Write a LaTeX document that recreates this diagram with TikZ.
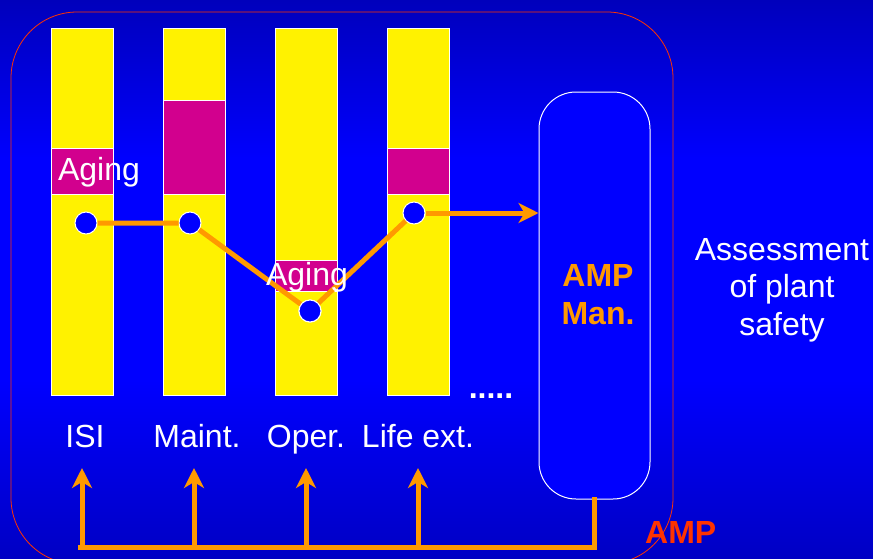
\documentclass[tikz,border=0pt]{standalone}
\usepackage{fontspec}
\setmainfont{Liberation Sans}
\usetikzlibrary{arrows.meta}
\definecolor{bgtop}{HTML}{0000BC}
\definecolor{bgmid}{HTML}{0000FF}
\definecolor{bgbot}{HTML}{0000C4}
\definecolor{amber}{HTML}{FF9900}
\definecolor{mag}{HTML}{D2008E}
\definecolor{frame}{HTML}{FF3300}
\tikzset{
  big/.style={font=\fontsize{32}{38}\selectfont},
  col/.style={draw=white, line width=0.8pt, fill=yellow, minimum width=62pt, minimum height=367pt, inner sep=0pt},
  agebox/.style={draw=white, line width=0.8pt, fill=mag, minimum width=62pt, inner sep=0pt},
  dot/.style={circle, draw=white, line width=1pt, fill=bgmid, minimum size=22pt, inner sep=0pt},
  flow/.style={amber, line width=5pt},
  tip/.style={-{Stealth[length=20pt,width=20pt,inset=6pt]}},
  lbl/.style={big, text=white, anchor=base, inner sep=0pt},
}
\begin{document}
\begin{tikzpicture}[x=1pt,y=-1pt]
\useasboundingbox (0,0) rectangle (873,558);
% background: dark top, bright middle, dark bottom
\shade[top color=bgtop, bottom color=bgmid] (0,0) rectangle (873,160.5);
\fill[bgmid] (0,160) rectangle (873,380.5);
\shade[top color=bgmid, bottom color=bgbot] (0,380) rectangle (873,558);
% outer frame
\draw[frame, line width=0.8pt, rounded corners=66pt] (11,12) rectangle (673,564);
% columns
\node[col] (c1) at (82,211.5) {};
\node[col] (c2) at (194.5,211.5) {};
\node[col] (c3) at (306.5,211.5) {};
\node[col] (c4) at (418.5,211.5) {};
% aging boxes
\node[agebox, minimum height=46pt] (m1) at (82,171) {};
\node[agebox, minimum height=94pt] (m2) at (194.5,147) {};
\node[agebox, minimum height=31pt] (m3) at (306.5,275.5) {};
\node[agebox, minimum height=46pt] (m4) at (418.5,171) {};
\node[big, text=white, inner sep=0pt] (a1) at (99,172) {Aging};
% AMP manager box
\node[draw=white, line width=1pt, fill=bgmid, rounded corners=37pt, minimum width=111pt, minimum height=407pt, inner sep=0pt] (amp) at (594.5,295.5) {};
\node[big, text=amber, font=\bfseries\fontsize{32}{38}\selectfont, align=center] (ampt) at (598,295) {AMP\\Man.};
% dots and path
\node[dot] (d1) at (86,223) {};
\node[dot] (d2) at (190,223) {};
\node[dot] (d3) at (310,311) {};
\node[dot] (d4) at (414,213) {};
\draw[flow] (d1) -- (d2) -- (d3) -- (d4);
\draw[flow, tip] (d4.east) -- (d4.east -| amp.west);
\node[big, text=white, inner sep=0pt] (a3) at (307,277) {Aging};
\node[dot] at (d3) {};
% labels
\node[lbl] (l1) at (85,447) {ISI};
\node[lbl] (l2) at (197,447) {Maint.};
\node[lbl] (l3) at (306,447) {Oper.};
\node[lbl] (l4) at (418,447) {Life ext.};
\node[lbl, font=\bfseries\fontsize{32}{38}\selectfont] (more) at (491,398) {.....};
\node[big, text=white, align=center, font=\fontsize{32}{37.5}\selectfont] (assess) at (782,290) {Assessment\\of plant\\safety};
% feedback loop
\coordinate (fr) at (594.5,547);
\coordinate (fl) at (80,547);
\draw[flow, line cap=rect] (amp.south) -- (fr) -- (fl);
\foreach \x [count=\i] in {82,194,306,418} {
  \coordinate (b\i) at (\x,547);
  \coordinate (t\i) at (\x,468);
  \draw[flow, tip] (b\i) -- (t\i);
}
\node[text=frame, font=\bfseries\fontsize{32}{38}\selectfont, anchor=base west, inner sep=0pt] (ampl) at (645,543) {AMP};
\end{tikzpicture}
\end{document}
